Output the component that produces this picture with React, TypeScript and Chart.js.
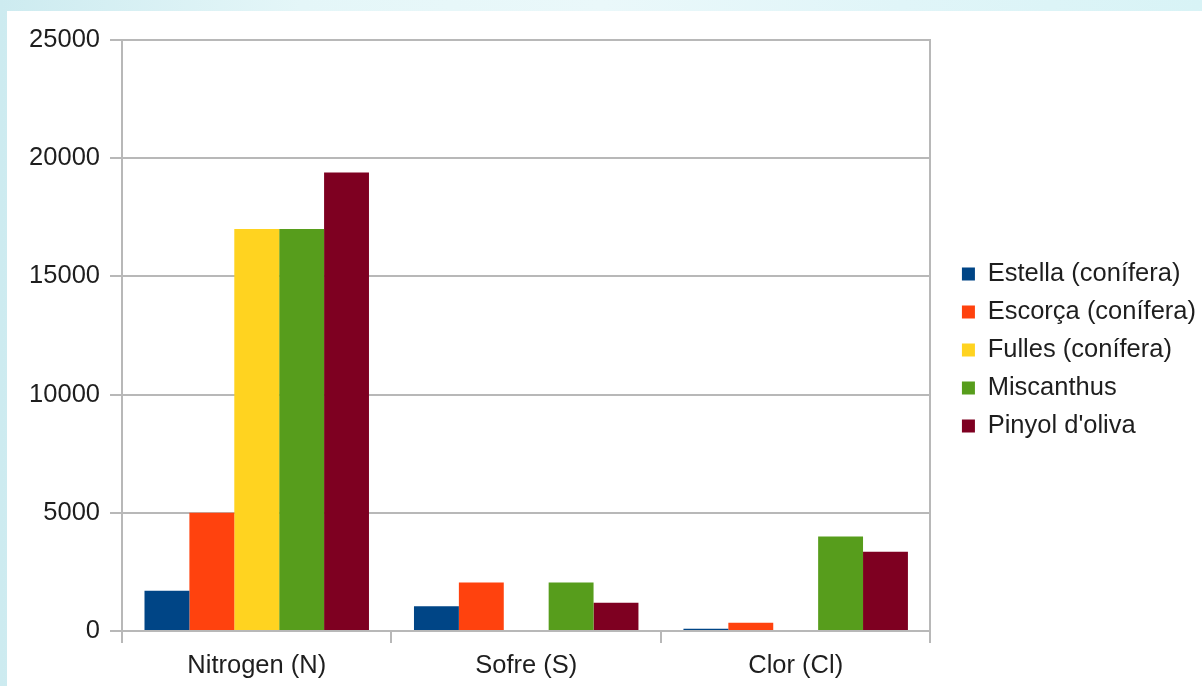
import React, { useEffect, useRef } from "react";
import { Chart, registerables } from "chart.js";

Chart.register(...registerables);

// Element content per biomass type (mg/kg)
const categories = ["Nitrogen (N)", "Sofre (S)", "Clor (Cl)"];
const seriesNames = [
  "Estella (conífera)",
  "Escorça (conífera)",
  "Fulles (conífera)",
  "Miscanthus",
  "Pinyol d'oliva",
];
const estella = [1700, 1050, 100];
const escorca = [5000, 2050, 350];
const fulles = [17000, null, null];
const miscanthus = [17000, 2050, 4000];
const pinyol = [19400, 1200, 3350];
const seriesColors = ["#004586", "#ff420e", "#ffd320", "#579d1c", "#7e0021"];
const yTicks = [0, 5000, 10000, 15000, 20000, 25000];

const FONT = "'Liberation Sans', Arial, sans-serif";
const TEXT = "#1e1e1e";
const GRID = "#b8b8b8";

export default function App() {
  const canvasRef = useRef<HTMLCanvasElement | null>(null);

  useEffect(() => {
    if (!canvasRef.current) return;
    const values = [estella, escorca, fulles, miscanthus, pinyol];
    const chart = new Chart(canvasRef.current, {
      type: "bar",
      data: {
        labels: categories,
        datasets: seriesNames.map((name, i) => ({
          label: name,
          data: values[i],
          backgroundColor: seriesColors[i],
          borderWidth: 0,
          categoryPercentage: 0.833,
          barPercentage: 1.0,
        })),
      },
      options: {
        responsive: true,
        maintainAspectRatio: false,
        animation: false,
        layout: { padding: { top: 29, right: -4, bottom: 0, left: 0 } },
        plugins: {
          tooltip: { enabled: false },
          legend: {
            position: "right",
            fullSize: false,
            maxWidth: 300,
            title: {
              display: true,
              text: " ",
              font: { family: FONT, size: 10 },
              padding: { top: 17, bottom: 0 },
            },
            labels: {
              color: TEXT,
              font: { family: FONT, size: 25.5 },
              boxWidth: 13,
              boxHeight: 13,
              padding: 12.5,
            },
          },
        },
        scales: {
          x: {
            afterFit: (scale: any) => {
              scale.height = 55;
            },
            grid: {
              offset: true,
              drawOnChartArea: false,
              drawTicks: true,
              tickLength: 12,
              color: GRID,
              lineWidth: 2,
            },
            border: { color: GRID, width: 2 },
            ticks: {
              color: TEXT,
              font: { family: FONT, size: 25.5 },
              padding: 8,
              maxRotation: 0,
            },
          },
          y: {
            min: 0,
            max: 25000,
            afterBuildTicks: (scale: any) => {
              scale.ticks = yTicks.map((v) => ({ value: v }));
            },
            afterFit: (scale: any) => {
              scale.width = 115;
            },
            grid: {
              color: GRID,
              lineWidth: 2,
              tickLength: 12,
            },
            border: { color: GRID, width: 2 },
            ticks: {
              color: TEXT,
              font: { family: FONT, size: 25.5 },
              padding: 10,
              callback: (v: any) => String(v),
            },
          },
          yRight: {
            type: "linear",
            position: "right",
            min: 0,
            max: 25000,
            afterFit: (scale: any) => {
              scale.width = 19;
            },
            grid: { drawOnChartArea: false, drawTicks: false },
            border: { color: GRID, width: 2 },
            ticks: { display: false },
          },
        },
      },
    });
    return () => chart.destroy();
  }, []);

  return (
    <div
      style={{
        position: "fixed",
        inset: 0,
        overflow: "hidden",
        background:
          "linear-gradient(90deg, #cdebf0 0%, #e4f6f8 25%, #eaf8fa 50%, #e0f5f8 75%, #d8f3f6 100%)",
      }}
    >
      <div
        style={{
          position: "absolute",
          left: 7,
          top: 11,
          width: 1195,
          height: 675,
          background: "#ffffff",
        }}
      >
        <canvas ref={canvasRef} />
      </div>
    </div>
  );
}
